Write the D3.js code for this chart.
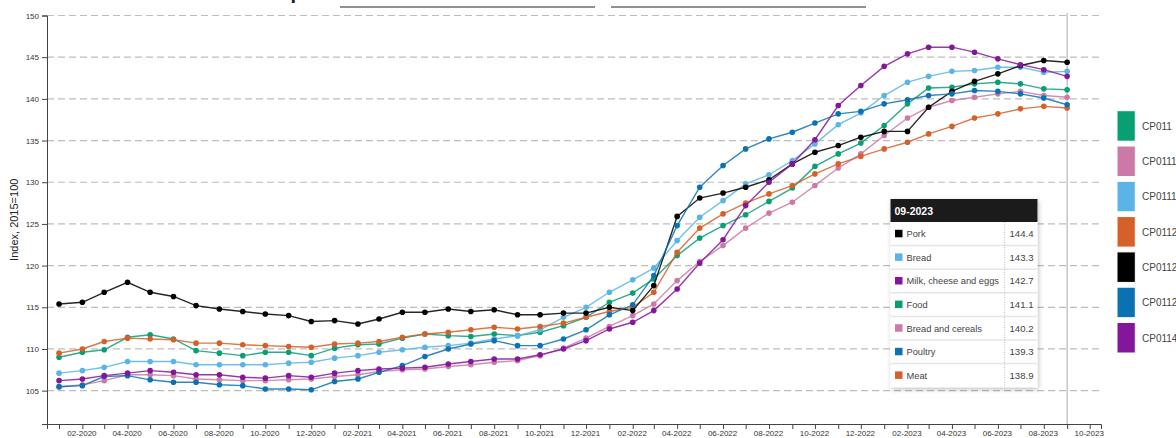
<!DOCTYPE html>
<html>
<head>
<meta charset="utf-8">
<script src="https://cdn.jsdelivr.net/npm/d3@7"></script>
<style>
  body { margin: 0; background: #fff; font-family: "Liberation Sans", Arial, sans-serif; }
  svg { display: block; }
</style>
</head>
<body>
<script>
// months 01-2020 .. 09-2023
var months = d3.timeMonth.range(new Date(2020, 0, 1), new Date(2023, 9, 1));

var codes = ["CP011", "CP0111", "CP01113", "CP0112", "CP01122", "CP01124", "CP0114"];
var names = ["Food", "Bread and cereals", "Bread", "Meat", "Pork", "Poultry", "Milk, cheese and eggs"];
var colors = ["#0a9e73", "#cc79a7", "#5ab4e6", "#d6602a", "#000000", "#0a72b2", "#84169c"];

var food = [109.0, 109.6, 109.9, 111.4, 111.7, 111.2, 109.8, 109.5, 109.2, 109.6, 109.6, 109.2,
  110.1, 110.5, 110.6, 111.3, 111.8, 111.6, 111.5, 111.8, 111.6, 112.0, 112.8, 113.8,
  115.6, 116.7, 118.4, 121.2, 123.3, 124.8, 126.1, 127.7, 129.3, 131.9, 133.4, 134.7,
  136.8, 139.4, 141.3, 141.4, 141.8, 142.0, 141.8, 141.2, 141.1];
var breadCereals = [105.4, 105.7, 106.2, 106.9, 106.9, 106.8, 106.4, 106.3, 106.2, 106.2, 106.3, 106.4,
  106.7, 106.9, 107.3, 107.5, 107.6, 107.9, 108.1, 108.4, 108.6, 109.2, 110.1, 111.3,
  112.7, 114.0, 115.4, 118.2, 120.5, 122.4, 124.5, 126.3, 127.6, 129.6, 131.7, 133.4,
  135.6, 137.7, 139.0, 139.8, 140.2, 140.6, 140.9, 140.4, 140.2];
var bread = [107.1, 107.4, 107.8, 108.5, 108.5, 108.5, 108.1, 108.1, 108.1, 108.1, 108.3, 108.4,
  108.9, 109.2, 109.6, 109.9, 110.2, 110.4, 110.7, 111.2, 111.6, 112.3, 113.8, 115.0,
  116.8, 118.3, 119.7, 123.0, 125.8, 127.8, 129.8, 130.9, 132.6, 134.6, 136.9, 138.3,
  140.4, 142.0, 142.7, 143.3, 143.4, 143.8, 143.8, 143.2, 143.3];
var meat = [109.5, 110.0, 110.9, 111.3, 111.2, 111.1, 110.7, 110.7, 110.5, 110.4, 110.3, 110.2,
  110.6, 110.7, 110.9, 111.4, 111.8, 112.0, 112.3, 112.6, 112.4, 112.7, 113.1, 113.8,
  114.5, 115.0, 116.8, 121.6, 124.5, 126.2, 127.5, 128.6, 129.6, 131.0, 132.2, 133.1,
  134.0, 134.8, 135.8, 136.7, 137.7, 138.2, 138.8, 139.1, 138.9];
var pork = [115.4, 115.6, 116.8, 118.0, 116.8, 116.3, 115.2, 114.8, 114.5, 114.2, 114.0, 113.3,
  113.4, 113.0, 113.6, 114.4, 114.4, 114.8, 114.5, 114.7, 114.1, 114.1, 114.3, 114.3,
  115.0, 114.6, 117.6, 125.9, 128.1, 128.7, 129.4, 130.3, 132.2, 133.6, 134.4, 135.4,
  136.1, 136.1, 139.0, 140.9, 142.1, 143.0, 144.0, 144.6, 144.4];
var poultry = [105.5, 105.6, 106.7, 106.8, 106.3, 106.0, 106.0, 105.7, 105.6, 105.2, 105.2, 105.1,
  106.1, 106.4, 107.2, 108.0, 109.1, 110.0, 110.6, 111.0, 110.4, 110.4, 111.2, 112.3,
  114.1, 115.3, 118.8, 124.8, 129.4, 132.0, 134.0, 135.2, 136.0, 137.1, 138.2, 138.5,
  139.4, 139.9, 140.4, 140.6, 141.0, 140.9, 140.6, 140.1, 139.3];
var milk = [106.2, 106.4, 106.8, 107.1, 107.4, 107.2, 106.9, 106.9, 106.6, 106.5, 106.8, 106.6,
  107.1, 107.4, 107.6, 107.7, 107.8, 108.2, 108.5, 108.8, 108.8, 109.3, 110.0, 111.0,
  112.4, 113.2, 114.6, 117.2, 120.3, 123.1, 127.2, 130.0, 132.2, 135.1, 139.2, 141.6,
  143.9, 145.4, 146.2, 146.2, 145.6, 144.8, 144.1, 143.5, 142.7];

var values = [food, breadCereals, bread, meat, pork, poultry, milk];
var yTicks = [105, 110, 115, 120, 125, 130, 135, 140, 145, 150];

(function() {
  var series = codes.map(function(c, i) {
    return {code: c, name: names[i], color: colors[i], values: values[i]};
  });

  var w = 1176;
  var h = 438;
  var mLeft = 47, mRight = 1101, mTop = 15.5, mBottom = 424;

  var svg = d3.select("body")
    .append("svg")
    .attr("width", w)
    .attr("height", h);

  var defs = svg.append("defs");
  var f = defs.append("filter").attr("id", "shadow")
    .attr("x", "-10%").attr("y", "-10%").attr("width", "125%").attr("height", "125%");
  f.append("feDropShadow").attr("dx", 1).attr("dy", 2).attr("stdDeviation", 2.5)
    .attr("flood-color", "#000").attr("flood-opacity", 0.25);

  var x = d3.scaleTime()
    .domain([new Date(2019, 11, 16), new Date(2023, 9, 16)])
    .range([mLeft, mRight]);

  var y = d3.scaleLinear()
    .domain([101, 150])
    .range([mBottom, mTop]);

  // title remains (cut off at the top) and the two select underlines
  svg.append("text")
    .attr("x", 246).attr("y", -1.5)
    .attr("font-size", "20px").attr("font-weight", "bold")
    .attr("fill", "#222")
    .text("Compare");
  svg.append("line").attr("x1", 340).attr("x2", 595).attr("y1", 7).attr("y2", 7)
    .attr("stroke", "#222").attr("stroke-width", 1);
  svg.append("line").attr("x1", 611).attr("x2", 866).attr("y1", 7).attr("y2", 7)
    .attr("stroke", "#222").attr("stroke-width", 1);

  // grid
  svg.append("g")
    .selectAll("line")
    .data(yTicks)
    .enter()
    .append("line")
    .attr("x1", mLeft).attr("x2", mRight)
    .attr("y1", function(d) { return y(d); })
    .attr("y2", function(d) { return y(d); })
    .attr("stroke", "#bdbdbd")
    .attr("stroke-width", 1.2)
    .attr("stroke-dasharray", "7,4");

  // hover line at last month
  var last = months.length - 1;
  svg.append("line")
    .attr("x1", x(months[last])).attr("x2", x(months[last]))
    .attr("y1", 13).attr("y2", mBottom)
    .attr("stroke", "#aaa").attr("stroke-width", 1);

  // axes
  var yAxis = svg.append("g")
    .attr("transform", "translate(" + mLeft + ",0)")
    .call(d3.axisLeft(y).tickValues(yTicks).tickSize(5).tickSizeOuter(5));

  var fmt = d3.timeFormat("%m-%Y");
  var xAxis = svg.append("g")
    .attr("transform", "translate(0," + mBottom + ")")
    .call(d3.axisBottom(x)
      .ticks(d3.timeMonth.every(1))
      .tickSize(5)
      .tickSizeOuter(5)
      .tickFormat(function(d) { return d.getMonth() % 2 == 1 ? fmt(d) : ""; }));

  [yAxis, xAxis].forEach(function(a) {
    a.select(".domain").attr("stroke", "#444");
    a.selectAll(".tick line").attr("stroke", "#444");
    a.selectAll(".tick text")
      .attr("font-family", "'Liberation Sans', Arial, sans-serif")
      .attr("font-size", "8px")
      .attr("fill", "#333");
  });
  xAxis.selectAll(".tick text").attr("y", 6).attr("dy", "0.75em").attr("dx", "-1");

  svg.append("text")
    .attr("transform", "translate(18," + ((mTop + mBottom) / 2) + ") rotate(-90)")
    .attr("text-anchor", "middle")
    .attr("font-size", "11px")
    .attr("fill", "#222")
    .text("Index, 2015=100");

  // lines + dots
  var line = d3.line()
    .x(function(d, i) { return x(months[i]); })
    .y(function(d) { return y(d); });

  var groups = svg.append("g")
    .selectAll("g")
    .data(series)
    .enter()
    .append("g");

  groups.append("path")
    .attr("d", function(d) { return line(d.values); })
    .attr("fill", "none")
    .attr("stroke", function(d) { return d.color; })
    .attr("stroke-opacity", 0.85)
    .attr("stroke-width", 1.4);

  groups.selectAll("circle")
    .data(function(d) { return d.values.map(function(v) { return {v: v, c: d.color}; }); })
    .enter()
    .append("circle")
    .attr("cx", function(d, i) { return x(months[i]); })
    .attr("cy", function(d) { return y(d.v); })
    .attr("r", 2.8)
    .attr("fill", function(d) { return d.c; });

  // legend
  var legend = svg.append("g")
    .selectAll("g")
    .data(series)
    .enter()
    .append("g")
    .attr("transform", function(d, i) { return "translate(1117," + (110.7 + i * 35.3) + ")"; });

  legend.append("rect")
    .attr("width", 18.3).attr("height", 30.5)
    .attr("fill", function(d) { return d.color; })
    .attr("stroke", "#fff").attr("stroke-width", 1);

  legend.append("text")
    .attr("x", 25).attr("y", 19)
    .attr("font-size", "10px")
    .attr("fill", "#444")
    .text(function(d) { return d.code; });

  // tooltip for last month
  var tipRows = series.slice().sort(function(a, b) { return b.values[last] - a.values[last]; });
  var tx = 890.5, ty = 199, tw = 147, headH = 23, rowH = 23.6;

  var tip = svg.append("g");
  tip.append("rect")
    .attr("x", tx).attr("y", ty)
    .attr("width", tw).attr("height", headH + rowH * tipRows.length)
    .attr("fill", "#fff")
    .attr("filter", "url(#shadow)");
  tip.append("rect")
    .attr("x", tx).attr("y", ty)
    .attr("width", tw).attr("height", headH)
    .attr("fill", "#1b1b1b");
  tip.append("text")
    .attr("x", tx + 4).attr("y", ty + 15.5)
    .attr("font-size", "10.5px").attr("font-weight", "bold")
    .attr("fill", "#fff")
    .text(fmt(months[last]));

  var rows = tip.selectAll("g.row")
    .data(tipRows)
    .enter()
    .append("g")
    .attr("class", "row")
    .attr("transform", function(d, i) { return "translate(" + tx + "," + (ty + headH + i * rowH) + ")"; });

  rows.filter(function(d, i) { return i > 0; })
    .append("line")
    .attr("x1", 0).attr("x2", tw)
    .attr("y1", 0).attr("y2", 0)
    .attr("stroke", "#e6e6e6").attr("stroke-width", 1.5);

  rows.append("rect")
    .attr("x", 4.5).attr("y", rowH / 2 - 4)
    .attr("width", 7.5).attr("height", 7.5)
    .attr("fill", function(d) { return d.color; });

  rows.append("text")
    .attr("x", 16).attr("y", rowH / 2 + 3.5)
    .attr("font-size", "9.3px")
    .attr("fill", "#444")
    .text(function(d) { return d.name; });

  rows.append("text")
    .attr("x", tw - 4).attr("y", rowH / 2 + 3.5)
    .attr("text-anchor", "end")
    .attr("font-size", "9.6px")
    .attr("fill", "#444")
    .text(function(d) { return d.values[last].toFixed(1); });

  tip.append("line")
    .attr("x1", 1004.7).attr("x2", 1004.7)
    .attr("y1", ty + headH).attr("y2", ty + headH + rowH * tipRows.length)
    .attr("stroke", "#aaa").attr("stroke-width", 0.8)
    .attr("stroke-dasharray", "1,1.5");
})();
</script>
</body>
</html>
